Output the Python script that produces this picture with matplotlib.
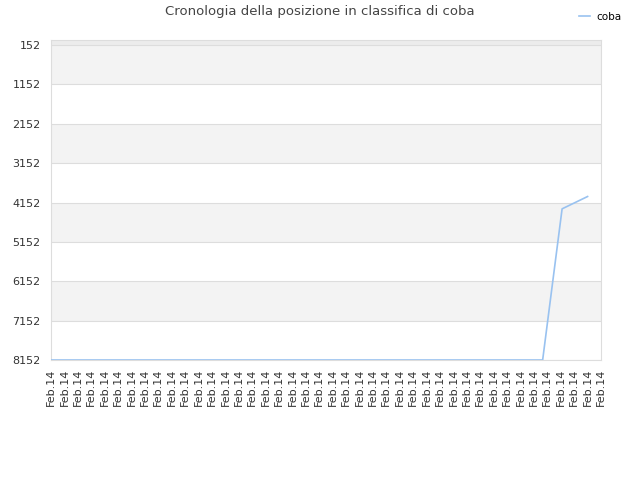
import matplotlib
matplotlib.use("Agg")
import matplotlib.pyplot as plt

# rank history for "coba" (lower number = better rank, axis inverted)
x_pos = [0, 36.65, 38.1, 40.0]
rank = [8152, 8152, 4313, 4000]
tick_labels = ["Feb.14"] * 42
y_ticks = [152, 1152, 2152, 3152, 4152, 5152, 6152, 7152, 8152]

fig = plt.figure(figsize=(6.4, 4.8), dpi=100)
ax = fig.add_axes([51 / 640, 1 - 360 / 480, 550 / 640, 320 / 480])

# alternating bands
ax.axhspan(25, 152, color="#ececec", zorder=0, lw=0)
for i in range(len(y_ticks) - 1):
    if i % 2 == 0:
        ax.axhspan(y_ticks[i], y_ticks[i + 1], color="#f3f3f3", zorder=0, lw=0)

ax.plot(x_pos, rank, color="#99c2f0", lw=1.2, label="coba", zorder=3)

ax.set_xlim(0, len(tick_labels) - 1)
ax.set_ylim(8152, 25)
ax.set_yticks(y_ticks)
ax.set_yticklabels([str(v) for v in y_ticks])
ax.set_xticks(range(len(tick_labels)))
ax.set_xticklabels(tick_labels, rotation=90)
ax.tick_params(axis="both", length=0, labelsize=8, colors="#333333")
ax.tick_params(axis="y", pad=7.5)
ax.tick_params(axis="x", pad=6)
ax.grid(axis="y", color="#dddddd", lw=0.8)
ax.set_axisbelow(True)
for s in ax.spines.values():
    s.set_color("#dddddd")

fig.text(0.5, 1 - 12 / 480, "Cronologia della posizione in classifica di coba",
         ha="center", va="center", fontsize=9.5, color="#444444")
fig.legend(loc="upper right", bbox_to_anchor=(0.985, 0.995), frameon=False,
           fontsize=7.5, handlelength=1.0, handletextpad=0.6)

fig.savefig("out.png", dpi=100)
